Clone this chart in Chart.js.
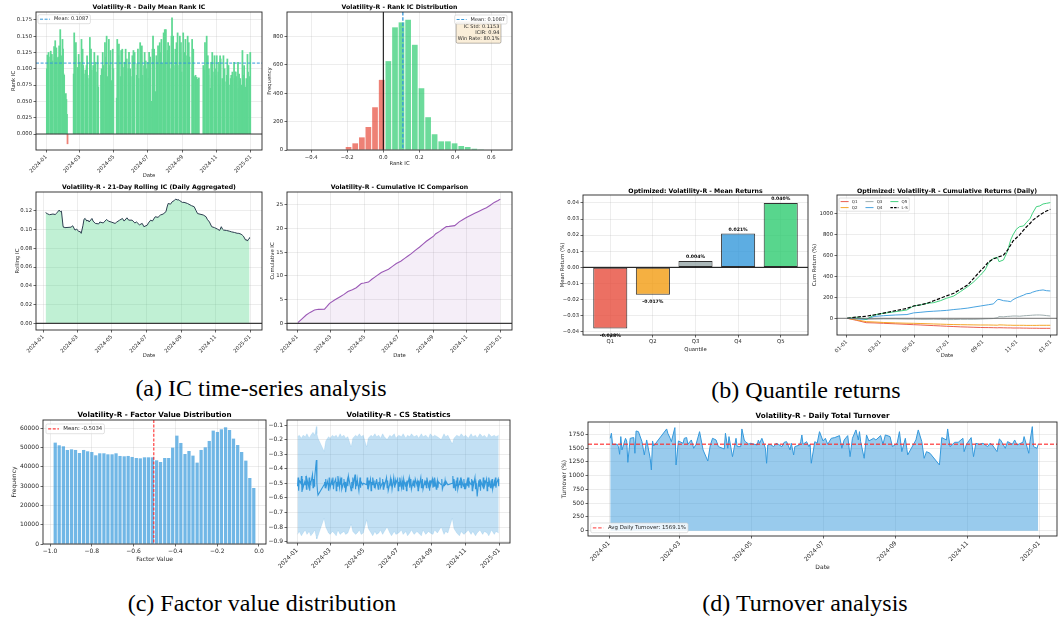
<!DOCTYPE html>
<html lang="en">
<head>
<meta charset="UTF-8">
<title>Volatility-R factor report</title>
<script src="https://cdn.jsdelivr.net/npm/chart.js@4.4.1/dist/chart.umd.min.js"></script>
<style>
  body { margin: 0; width: 1058px; height: 617px; background: #fff; position: relative; overflow: hidden; }
  canvas { position: absolute; }
  .cap { position: absolute; width: 400px; text-align: center; white-space: nowrap; color: #000;
         font-family: "Liberation Serif", serif; font-size: 24px; line-height: 24px; }
</style>
</head>
<body>
<div class="cap" style="left:61px;top:376px">(a) IC time-series analysis</div>
<div class="cap" style="left:606px;top:378px">(b) Quantile returns</div>
<div class="cap" style="left:62px;top:591px">(c) Factor value distribution</div>
<div class="cap" style="left:605px;top:591px">(d) Turnover analysis</div>
<script>
// ---- data ----
const monthTicks = [0, 60, 121, 182, 244, 305, 366];
const dateLabels = ['2024-01', '2024-03', '2024-05', '2024-07', '2024-09', '2024-11', '2025-01'];
const mdLabels = ['01-01', '03-01', '05-01', '07-01', '09-01', '11-01', '01-01'];

// trading days (also used for the cross-sectional mean)
const icDates = [
  '01-02','01-03','01-04','01-05','01-08','01-09','01-10','01-11','01-12','01-15','01-16','01-17','01-18','01-19','01-22','01-23','01-24','01-25','01-26','01-29','01-30','01-31',
  '02-01','02-02','02-05','02-06','02-07','02-08','02-19','02-20','02-21','02-22','02-23','02-26','02-27','02-28','02-29',
  '03-01','03-04','03-05','03-06','03-07','03-08','03-11','03-12','03-13','03-14','03-15','03-18','03-19','03-20','03-21','03-22','03-25','03-26','03-27','03-28','03-29',
  '04-01','04-02','04-03','04-08','04-09','04-10','04-11','04-12','04-15','04-16','04-17','04-18','04-19','04-22','04-23','04-24','04-25','04-26','04-29','04-30',
  '05-06','05-07','05-08','05-09','05-10','05-13','05-14','05-15','05-16','05-17','05-20','05-21','05-22','05-23','05-24','05-27','05-28','05-29','05-30','05-31',
  '06-03','06-04','06-05','06-06','06-07','06-11','06-12','06-13','06-14','06-17','06-18','06-19','06-20','06-21','06-24','06-25','06-26','06-27','06-28',
  '07-01','07-02','07-03','07-04','07-05','07-08','07-09','07-10','07-11','07-12','07-15','07-16','07-17','07-18','07-19','07-22','07-23','07-24','07-25','07-26','07-29','07-30','07-31',
  '08-01','08-02','08-05','08-06','08-07','08-08','08-09','08-12','08-13','08-14','08-15','08-16','08-19','08-20','08-21','08-22','08-23','08-26','08-27','08-28','08-29','08-30',
  '09-02','09-03','09-04','09-05','09-06','09-09','09-10','09-11','09-12','09-13','09-18','09-19','09-20','09-23','09-24','09-25','09-26','09-27','09-30',
  '10-08','10-09','10-10','10-11','10-14','10-15','10-16','10-17','10-18','10-21','10-22','10-23','10-24','10-25','10-28','10-29','10-30','10-31',
  '11-01','11-04','11-05','11-06','11-07','11-08','11-11','11-12','11-13','11-14','11-15','11-18','11-19','11-20','11-21','11-22','11-25','11-26','11-27','11-28','11-29',
  '12-02','12-03','12-04','12-05','12-06','12-09','12-10','12-11','12-12','12-13','12-16','12-17','12-18','12-19','12-20','12-23','12-24','12-25','12-26','12-27','12-30','12-31'
];
const icValues = [
  .100,.121,.108,.125,.118,.127,.103,.122,.112,.134,.118,.143,.126,.132,.117,.118,.135,.098,.160,.120,.145,.130,
  .092,.090,.062,.053,.030,-.015,.092,.155,.100,.118,.140,.102,.035,.122,.098,
  .110,.145,.088,.130,.105,.092,.098,.065,.105,.120,.090,.085,.148,.110,.130,.098,.105,.088,.125,.100,.110,
  .095,.120,.072,.090,.100,.082,.125,.105,.140,.095,.118,.150,.088,.145,.105,.100,.128,.082,.130,.100,
  .055,.145,.095,.120,.138,.088,.128,.070,.130,.102,.110,.080,.130,.095,.115,.100,.125,.078,.100,.088,
  .120,.075,.128,.095,.125,.090,.108,.130,.085,.140,.098,.120,.135,.090,.105,.125,.072,.112,.100,
  .110,.085,.125,.095,.118,.050,.130,.150,.105,.130,.065,.120,.050,.110,.135,.140,.095,.125,.145,.108,.155,.120,.160,
  .098,.160,.128,.140,.110,.135,.100,.150,.178,.120,.150,.105,.130,.090,.140,.118,.155,.105,.150,.125,.140,.095,
  .155,.115,.125,.100,.145,.120,.150,.098,.140,.118,.145,.105,.130,.088,.090,.085,.087,.084,.086,
  .105,.080,.098,.140,.150,.100,.120,.090,.100,.070,.110,.085,.125,.095,.120,.100,.088,.090,
  .120,.095,.110,.075,.120,.115,.085,.070,.120,.095,.100,.080,.090,.115,.085,.105,.075,.085,.090,.080,.095,
  .110,.085,.095,.095,.088,.110,.070,.092,.080,.085,.075,.128,.082,.090,.105,.072,.085,.080,.122,.095,.088,.125
];
const icMean = 0.1087;

const icBinCenters = [-0.193,-0.156,-0.119,-0.083,-0.046,-0.009,0.028,0.065,0.101,0.138,0.175,0.212,0.249,0.285,0.322,0.359,0.396,0.433,0.469,0.506,0.543];
const icBinCounts = [21,47,89,162,301,494,626,864,899,918,741,435,231,111,61,61,47,28,21,9,4];
const icStatsLines = ['IC Std: 0.1153', 'ICIR: 0.94', 'Win Rate: 80.1%'];

const rollDates = [
  '01-05','01-09','01-12','01-18','01-22','01-24','01-26','01-29','01-31','02-02',
  '02-05','02-06','02-08','02-19','02-22','02-26','02-29','03-04','03-06','03-08',
  '03-11','03-13','03-15','03-18','03-20','03-22','03-27','03-29','04-02','04-08',
  '04-10','04-16','04-22','04-25','04-30','05-07','05-10','05-15','05-20','05-23',
  '05-28','05-31','06-06','06-11','06-14','06-19','06-24','06-27','07-03','07-05',
  '07-09','07-12','07-17','07-22','07-26','07-31','08-05','08-07','08-09','08-13',
  '08-16','08-20','08-22','08-26','08-28','08-30','09-03','09-06','09-12','09-19',
  '09-24','09-27','09-30','10-10','10-15','10-17','10-21','10-25','10-30','11-04',
  '11-08','11-11','11-13','11-15','11-20','11-25','11-29','12-04','12-09','12-12',
  '12-16','12-18','12-20','12-24','12-26','12-27','12-30','12-31'
];
const rollValues = [
  .118,.1165,.1158,.1165,.116,.117,.1185,.1207,.119,.1196,
  .103,.1025,.102,.1025,.104,.0994,.1005,.0976,.098,.0959,
  .104,.111,.1118,.109,.110,.108,.1118,.109,.1065,.106,
  .108,.107,.1108,.109,.108,.1065,.108,.110,.1118,.109,
  .1125,.110,.110,.107,.108,.105,.1065,.103,.1047,.107,
  .110,.109,.1136,.113,.1154,.1165,.119,.124,.1278,.127,
  .1296,.131,.1324,.1315,.1317,.1305,.1289,.129,.1278,.1255,
  .1243,.1205,.117,.1155,.1136,.111,.108,.103,.102,.1005,
  .099,.103,.1005,.0994,.099,.0983,.0975,.0969,.096,.0959,
  .095,.0941,.093,.0888,.089,.0877,.0905,.0916
];

const cumDates = [
  '01-02','01-09','01-17','01-24','02-01','02-08','02-19','02-23','02-28','03-08',
  '03-18','03-25','04-01','04-09','04-16','04-25','04-30','05-08','05-14','05-20',
  '05-31','06-07','06-13','06-20','06-27','07-05','07-12','07-18','07-24','07-31',
  '08-08','08-14','08-20','08-27','09-02','09-06','09-13','09-20','09-25','09-30',
  '10-10','10-18','10-25','10-31','11-08','11-15','11-22','11-29','12-06','12-13',
  '12-20','12-27','12-31'
];
const cumValues = [
  0.14,0.9,1.76,2.3,2.8,2.95,3.0,3.5,4.2,4.9,
  5.6,6.1,6.7,7.1,7.5,8.4,8.5,8.7,9.3,9.8,
  10.7,11.1,11.4,12.0,12.6,13.1,13.7,14.2,14.7,15.4,
  16.1,16.7,17.3,17.9,18.4,18.9,19.4,20.0,20.4,20.45,
  20.6,21.4,21.9,22.3,22.8,23.2,23.6,24.0,24.4,24.9,
  25.5,25.9,26.2
];

const quantiles = ['Q1', 'Q2', 'Q3', 'Q4', 'Q5'];
const meanReturns = [-0.038, -0.017, 0.004, 0.021, 0.040];

const qrDates = [
  '01-02','01-19','02-05','02-19','03-07','03-29','04-18','04-30','05-13','05-24',
  '06-05','06-17','06-28','07-11','07-23','08-05','08-16','08-28','09-05','09-11',
  '09-20','09-27','09-30','10-08','10-15','10-21','10-25','10-31','11-06','11-13',
  '11-18','11-25','11-29','12-06','12-12','12-18','12-24','12-31'
];
const q1Cum = [0,-20,-42,-44,-48,-53,-58,-61,-64,-67,-70,-73,-76,-79,-82,-84,-86,-88,-89,-89,-90,-91,-90,-91,-92,-92,-93,-93,-93,-94,-94,-95,-95,-95,-96,-96,-96,-96];
const q2Cum = [0,-15,-32,-35,-40,-44,-47,-48,-50,-52,-54,-56,-58,-60,-61,-62,-63,-64,-64,-64,-65,-66,-63,-64,-66,-66,-67,-67,-67,-67,-68,-68,-68,-68,-67,-67,-67,-67];
const q3Cum = [0,-4,-10,-8,-6,-6,-8,-8,-10,-10,-9,-10,-12,-12,-10,-10,-10,-8,-5,-4,-2,5,16,14,18,20,22,22,20,24,26,28,30,32,32,30,26,22];
const q4Cum = [0,-5,-10,18,25,32,36,52,58,64,68,72,76,84,90,98,108,118,125,130,138,178,182,169,165,160,178,195,208,222,235,240,250,262,268,272,265,262];
const q5Cum = [0,10,-10,32,48,64,80,118,128,144,150,169,192,214,256,304,351,415,463,527,575,585,543,559,639,751,799,853,879,885,917,958,1006,1070,1077,1096,1102,1109];
const lsCum = [0,12,20,32,50,74,95,118,130,144,168,192,215,240,278,320,385,457,500,540,570,582,590,605,650,703,740,770,799,845,875,911,938,965,990,1010,1028,1045];

const fvBinCenters = [
  -0.975,-0.956,-0.936,-0.917,-0.897,-0.878,-0.859,-0.839,-0.820,-0.800,
  -0.781,-0.762,-0.742,-0.723,-0.703,-0.684,-0.665,-0.645,-0.626,-0.607,
  -0.587,-0.568,-0.548,-0.529,-0.510,-0.490,-0.471,-0.451,-0.432,-0.413,
  -0.393,-0.374,-0.354,-0.335,-0.316,-0.296,-0.277,-0.257,-0.238,-0.219,
  -0.199,-0.180,-0.160,-0.141,-0.122,-0.102,-0.083,-0.063,-0.044,-0.025
];
const fvBinCounts = [
  52560,51180,50660,48760,49100,48760,47200,48760,48070,47720,
  45990,47030,47030,46510,46510,47030,45650,45470,45650,45130,
  44610,44430,44950,44950,44950,43400,42530,44610,44610,49970,
  56190,52390,46680,48240,45820,42190,48760,50140,53430,58790,
  58100,59480,60520,59130,54640,51350,47720,43230,34230,29050
];
const fvMean = -0.5034;

// cross-sectional mean per trading day (dates = icDates)
const csMean = [
  -0.52,-0.46,-0.55,-0.48,-0.50,-0.45,-0.56,-0.47,-0.53,-0.49,-0.51,-0.45,-0.54,-0.47,-0.52,-0.46,-0.55,-0.49,-0.50,-0.44,-0.53,-0.47,
  -0.52,-0.46,-0.34,-0.50,-0.55,-0.58,-0.51,-0.49,-0.53,-0.47,-0.52,-0.48,-0.55,-0.50,-0.46,
  -0.53,-0.48,-0.51,-0.46,-0.54,-0.50,-0.47,-0.55,-0.49,-0.52,-0.45,-0.53,-0.48,-0.51,-0.46,-0.54,-0.50,-0.47,-0.53,-0.49,-0.56,
  -0.48,-0.52,-0.45,-0.55,-0.49,-0.53,-0.46,-0.51,-0.44,-0.54,-0.48,-0.52,-0.47,-0.55,-0.50,-0.46,-0.53,-0.49,-0.51,-0.50,
  -0.51,-0.46,-0.54,-0.48,-0.52,-0.47,-0.55,-0.49,-0.51,-0.46,-0.53,-0.48,-0.52,-0.50,-0.47,-0.54,-0.49,-0.51,-0.46,-0.53,
  -0.50,-0.47,-0.54,-0.49,-0.52,-0.46,-0.53,-0.48,-0.55,-0.50,-0.47,-0.52,-0.49,-0.54,-0.46,-0.51,-0.53,-0.48,-0.50,
  -0.47,-0.55,-0.49,-0.52,-0.46,-0.53,-0.48,-0.51,-0.54,-0.47,-0.52,-0.49,-0.55,-0.48,-0.51,-0.46,-0.53,-0.50,-0.47,-0.54,-0.49,-0.52,-0.48,
  -0.53,-0.47,-0.51,-0.49,-0.55,-0.48,-0.52,-0.46,-0.53,-0.50,-0.47,-0.54,-0.49,-0.51,-0.48,-0.53,-0.46,-0.52,-0.50,-0.55,-0.48,-0.51,
  -0.47,-0.53,-0.49,-0.52,-0.46,-0.54,-0.50,-0.48,-0.53,-0.49,-0.51,-0.47,-0.54,-0.50,-0.52,-0.48,-0.51,-0.49,-0.51,
  -0.50,-0.45,-0.53,-0.47,-0.55,-0.48,-0.52,-0.46,-0.54,-0.49,-0.51,-0.46,-0.53,-0.48,-0.52,-0.47,-0.54,-0.50,
  -0.54,-0.48,-0.52,-0.46,-0.53,-0.49,-0.51,-0.47,-0.55,-0.48,-0.52,-0.46,-0.54,-0.50,-0.53,-0.59,-0.48,-0.52,-0.47,-0.55,-0.49,
  -0.52,-0.46,-0.54,-0.48,-0.51,-0.47,-0.55,-0.49,-0.52,-0.46,-0.53,-0.48,-0.51,-0.47,-0.54,-0.49,-0.52,-0.46,-0.53,-0.50,-0.47,-0.52
];

const csDates = [
  '01-02','01-05','01-09','01-12','01-16','01-19','01-23','01-26','01-30','02-02',
  '02-05','02-06','02-08','02-19','02-22','02-27','03-01','03-05','03-08','03-12',
  '03-15','03-19','03-22','03-26','03-29','04-02','04-08','04-11','04-16','04-19',
  '04-23','04-26','04-30','05-06','05-09','05-14','05-17','05-21','05-24','05-28',
  '05-31','06-04','06-07','06-12','06-17','06-20','06-25','06-28','07-03','07-08',
  '07-11','07-16','07-19','07-23','07-26','07-31','08-05','08-08','08-13','08-16',
  '08-21','08-26','08-29','09-03','09-06','09-11','09-18','09-23','09-26','09-30',
  '10-08','10-11','10-16','10-21','10-24','10-29','11-01','11-06','11-11','11-14',
  '11-19','11-22','11-27','12-02','12-05','12-10','12-13','12-18','12-23','12-26',
  '12-31'
];
const csUpper = [
  -0.18,-0.17,-0.19,-0.17,-0.18,-0.16,-0.19,-0.17,-0.15,-0.17,
  -0.11,-0.16,-0.19,-0.28,-0.21,-0.18,-0.19,-0.17,-0.18,-0.17,
  -0.19,-0.16,-0.18,-0.17,-0.19,-0.18,-0.25,-0.19,-0.17,-0.18,
  -0.16,-0.18,-0.17,-0.25,-0.19,-0.17,-0.18,-0.16,-0.18,-0.17,
  -0.19,-0.16,-0.18,-0.20,-0.17,-0.18,-0.16,-0.19,-0.17,-0.18,
  -0.16,-0.19,-0.17,-0.18,-0.16,-0.18,-0.17,-0.19,-0.16,-0.18,
  -0.17,-0.19,-0.16,-0.18,-0.17,-0.18,-0.20,-0.16,-0.18,-0.17,
  -0.23,-0.19,-0.17,-0.18,-0.16,-0.18,-0.17,-0.19,-0.16,-0.18,
  -0.17,-0.19,-0.16,-0.18,-0.17,-0.19,-0.16,-0.18,-0.17,-0.18,
  -0.17
];
const csLower = [
  -0.85,-0.83,-0.86,-0.84,-0.82,-0.85,-0.83,-0.86,-0.84,-0.82,
  -0.87,-0.88,-0.86,-0.74,-0.80,-0.84,-0.85,-0.83,-0.84,-0.86,
  -0.82,-0.85,-0.84,-0.83,-0.85,-0.84,-0.78,-0.83,-0.85,-0.84,
  -0.82,-0.85,-0.84,-0.75,-0.81,-0.84,-0.86,-0.83,-0.85,-0.84,
  -0.82,-0.85,-0.83,-0.80,-0.84,-0.86,-0.83,-0.85,-0.84,-0.82,
  -0.85,-0.83,-0.86,-0.84,-0.82,-0.85,-0.83,-0.84,-0.86,-0.82,
  -0.85,-0.83,-0.84,-0.85,-0.82,-0.84,-0.80,-0.85,-0.83,-0.84,
  -0.74,-0.81,-0.84,-0.86,-0.83,-0.85,-0.84,-0.82,-0.85,-0.83,
  -0.86,-0.84,-0.82,-0.85,-0.83,-0.84,-0.86,-0.82,-0.85,-0.83,
  -0.84
];

const toDates = [
  '01-02','01-03','01-04','01-08','01-09','01-10','01-11','01-12','01-15','01-16','01-17','01-19','01-22','01-23','01-24','01-26','01-29','01-31',
  '02-02','02-05','02-06','02-07','02-08','02-19','02-20','02-22','02-23','02-26','02-27','02-29',
  '03-04','03-05','03-07','03-08','03-11','03-13','03-15','03-18','03-21','03-25','03-27','03-29',
  '04-01','04-03','04-08','04-09','04-11','04-12','04-15','04-18','04-19','04-22','04-23','04-25','04-26','04-29','04-30',
  '05-06','05-07','05-08','05-10','05-13','05-14','05-15','05-17','05-20','05-22','05-24','05-27','05-29','05-31',
  '06-03','06-04','06-06','06-07','06-11','06-12','06-13','06-14','06-17','06-19','06-20','06-21','06-24','06-26','06-28',
  '07-01','07-03','07-05','07-08','07-11','07-15','07-17','07-19','07-22','07-24','07-26','07-29','07-31',
  '08-01','08-02','08-05','08-07','08-09','08-13','08-15','08-19','08-21','08-23','08-27','08-29',
  '09-02','09-04','09-06','09-09','09-11','09-18','09-20','09-23','09-25','09-27','09-30',
  '10-08','10-10','10-14','10-15','10-17','10-21','10-24','10-28','10-29','10-31',
  '11-04','11-06','11-08','11-11','11-14','11-18','11-20','11-22','11-26','11-28','11-29',
  '12-03','12-05','12-09','12-11','12-13','12-18','12-19','12-23','12-24','12-26','12-27','12-30','12-31'
];
const toValues = [
  1677,1768,1568,1568,1526,1387,1708,1465,1677,1629,1241,1677,1690,1405,1810,1798,1617,1375,
  1647,1314,1102,1629,1538,1847,1768,1677,1617,1871,1193,1629,
  1586,1677,1690,1568,1647,1496,1568,1798,1465,1265,1538,1677,
  1647,1526,1483,1768,1496,1708,1344,1677,1526,1526,1847,1646,1616,1568,1587,
  1556,1646,1587,1677,1496,1224,1556,1568,1525,1587,1568,1525,1605,1616,
  1465,1587,1374,1525,1556,1616,1737,1568,1616,1525,1568,1224,1616,1587,1798,
  1629,1677,1568,1677,1690,1726,1496,1647,1726,1344,1677,1829,1647,
  1798,1617,1314,1738,1629,1677,1647,1726,1568,1738,1708,1526,
  1586,1798,1435,1677,1375,1647,1829,1617,1314,1435,1405,
  1193,1690,1647,1847,1526,1605,1605,1677,1435,1568,
  1690,1344,1586,1568,1586,1526,1586,1556,1435,1665,1647,
  1496,1617,1568,1647,1556,1605,1708,1405,1617,1889,1526,1496,1568
];
const avgTurnover = 1569.1;

// ---- helpers ----
const INK = '#262626';
const GRID = 'rgba(176,176,176,0.38)';
Chart.defaults.font.family = '"DejaVu Sans", sans-serif';
Chart.defaults.color = INK;

const day = s => (Date.UTC(2024, +s.slice(0, 2) - 1, +s.slice(3, 5)) - Date.UTC(2024, 0, 1)) / 864e5;
const pts = (dates, vals) => dates.map((d, i) => ({ x: day(d), y: vals[i] }));
const xy = (xs, ys) => xs.map((x, i) => ({ x: x, y: ys[i] }));
const minus = s => s.replace('-', '\u2212');
const fixed = n => v => minus(v.toFixed(n));

function axis(o) {
  return {
    type: 'linear', min: o.min, max: o.max, offset: false,
    afterBuildTicks: s => { s.ticks = o.ticks.map(v => ({ value: v })); },
    ticks: {
      autoSkip: false, minRotation: o.rot || 0, maxRotation: o.rot || 0,
      padding: o.tpad != null ? o.tpad : 1.5, color: INK, font: { size: o.size },
      callback: (v, i) => o.labels ? o.labels[i] : o.fmt(v)
    },
    grid: { color: GRID, lineWidth: 0.6, offset: false, tickColor: INK, tickLength: 2.5, tickWidth: 0.7 },
    border: { display: false },
    title: { display: !!o.title, text: o.title || '', color: INK, font: { size: o.size, lineHeight: 1 }, padding: 0 }
  };
}

function strokeLine(ctx, x1, y1, x2, y2, s) {
  ctx.beginPath();
  ctx.strokeStyle = s.color; ctx.lineWidth = s.width || 1; ctx.setLineDash(s.dash || []);
  ctx.moveTo(x1, y1); ctx.lineTo(x2, y2); ctx.stroke();
  ctx.setLineDash([]);
}

function drawLegend(ctx, a, L) {
  const fs = L.size, rows = L.rows || L.items.length, cols = Math.ceil(L.items.length / rows);
  const pad = 0.4 * fs, hl = 2 * fs, hg = 0.8 * fs, cs = 2 * fs, ls = 0.5 * fs;
  ctx.save();
  ctx.font = fs + 'px "DejaVu Sans"';
  const colW = [];
  for (let c = 0; c < cols; c++) {
    let w = 0;
    for (let r = 0; r < rows; r++) {
      const it = L.items[c * rows + r];
      if (it) w = Math.max(w, ctx.measureText(it.label).width);
    }
    colW.push(hl + hg + w);
  }
  const W = 2 * pad + colW.reduce((s, v) => s + v, 0) + cs * (cols - 1);
  const H = 2 * pad + rows * fs + (rows - 1) * ls;
  const x0 = L.right != null ? a.right - L.right - W : a.left + L.left;
  const y0 = L.bottom != null ? a.bottom - L.bottom - H : a.top + L.top;
  ctx.beginPath(); ctx.roundRect(x0, y0, W, H, fs * 0.3);
  ctx.fillStyle = 'rgba(255,255,255,0.8)'; ctx.fill();
  ctx.strokeStyle = '#cccccc'; ctx.lineWidth = 0.6; ctx.stroke();
  let cx = x0 + pad;
  for (let c = 0; c < cols; c++) {
    for (let r = 0; r < rows; r++) {
      const it = L.items[c * rows + r];
      if (!it) continue;
      const cy = y0 + pad + r * (fs + ls) + fs / 2;
      strokeLine(ctx, cx, cy, cx + hl, cy, it);
      ctx.fillStyle = INK; ctx.textAlign = 'left'; ctx.textBaseline = 'middle';
      ctx.fillText(it.label, cx + hl + hg, cy);
    }
    cx += colW[c] + cs;
  }
  ctx.restore();
}

function drawTextBox(ctx, a, B) {
  ctx.save();
  ctx.font = B.size + 'px "DejaVu Sans"';
  const w = Math.max(...B.lines.map(s => ctx.measureText(s).width)) + 2 * B.pad;
  const h = B.lines.length * B.lineH + 2 * B.pad;
  const x1 = a.right - B.right, y0 = a.top + B.top;
  ctx.beginPath(); ctx.roundRect(x1 - w, y0, w, h, 1.5);
  ctx.fillStyle = 'rgba(245,222,179,0.5)'; ctx.fill();
  ctx.strokeStyle = 'rgba(0,0,0,0.45)'; ctx.lineWidth = 0.6; ctx.stroke();
  ctx.fillStyle = INK; ctx.textAlign = 'right'; ctx.textBaseline = 'middle';
  B.lines.forEach((s, i) => ctx.fillText(s, x1 - B.pad, y0 + B.pad + (i + 0.5) * B.lineH));
  ctx.restore();
}

function decoPlugin(d) {
  return {
    id: 'deco',
    afterDatasetsDraw(chart) {
      const { ctx, chartArea: a, scales: { x, y } } = chart;
      ctx.save();
      ctx.beginPath(); ctx.rect(a.left, a.top, a.right - a.left, a.bottom - a.top); ctx.clip();
      (d.hlines || []).forEach(h => { const py = y.getPixelForValue(h.v); strokeLine(ctx, a.left, py, a.right, py, h); });
      (d.vlines || []).forEach(h => { const px = x.getPixelForValue(h.v); strokeLine(ctx, px, a.top, px, a.bottom, h); });
      ctx.restore();
      ctx.save();
      ctx.strokeStyle = INK; ctx.lineWidth = 0.9;
      ctx.strokeRect(a.left, a.top, a.right - a.left, a.bottom - a.top);
      ctx.restore();
      if (d.barLabels) {
        const meta = chart.getDatasetMeta(0);
        ctx.save();
        ctx.font = 'bold ' + d.barLabels.size + 'px "DejaVu Sans"';
        ctx.fillStyle = '#000'; ctx.textAlign = 'center'; ctx.textBaseline = 'middle';
        meta.data.forEach((el, i) => {
          const v = d.barLabels.values[i];
          ctx.fillText(v.toFixed(3) + '%', el.x, v >= 0 ? el.y - 4.2 : el.y + 7);
        });
        ctx.restore();
      }
      if (d.box) drawTextBox(ctx, a, d.box);
      if (d.legend) drawLegend(ctx, a, d.legend);
      ctx.save();
      ctx.fillStyle = '#000'; ctx.font = 'bold ' + d.titleSize + 'px "DejaVu Sans"';
      ctx.textAlign = 'center'; ctx.textBaseline = 'middle';
      ctx.fillText(d.title, (a.left + a.right) / 2, a.top - d.titleGap);
      ctx.restore();
    }
  };
}

// box = plot area [l, t, r, b] on the page, pad = room [left, top, right, bottom] around it
function makeChart(box, pad, config, deco) {
  const [l, t, r, b] = box;
  const left = Math.round(l - pad[0]), top = Math.round(t - pad[1]);
  const W = Math.round(r + pad[2]) - left, H = Math.round(b + pad[3]) - top;
  const cv = document.createElement('canvas');
  cv.width = W; cv.height = H;
  cv.style.left = left + 'px'; cv.style.top = top + 'px';
  cv.style.width = W + 'px'; cv.style.height = H + 'px';
  document.body.appendChild(cv);
  const o = config.options;
  o.responsive = false; o.animation = false; o.devicePixelRatio = 1;
  o.layout = { padding: { left: 0, top: t - top, right: left + W - r, bottom: 0 } };
  o.scales.x.afterFit = s => { s.height = top + H - b; };
  o.scales.y.afterFit = s => { s.width = l - left; };
  o.plugins = { legend: { display: false }, tooltip: { enabled: false } };
  o.elements = { point: { radius: 0 }, line: { tension: 0 } };
  config.plugins = [decoPlugin(deco)];
  return new Chart(cv, config);
}

const FA = 5.3, FC = 6.0, TA = 6.2, TC = 7.2;
const GREEN = '#5fd893', RED = '#ee8277', BLUE = '#3498db';

// (a) daily mean rank IC
makeChart([36, 12, 262, 150], [24.65, 12, 6, 28.35], {
  type: 'bar',
  data: { datasets: [{
    data: pts(icDates, icValues),
    backgroundColor: icValues.map(v => v >= 0 ? GREEN : RED),
    barThickness: 1.1, borderWidth: 0
  }] },
  options: { scales: {
    x: axis({ min: -18.4, max: 386, ticks: monthTicks, labels: dateLabels, size: FA, rot: 45, title: 'Date' }),
    y: axis({ min: -0.0245, max: 0.187, ticks: [0, 0.025, 0.05, 0.075, 0.1, 0.125, 0.15, 0.175], fmt: fixed(3), size: FA, title: 'Rank IC' })
  } }
}, {
  title: 'Volatility-R - Daily Mean Rank IC', titleSize: TA, titleGap: 4.7,
  hlines: [{ v: 0, color: '#3a3a3a', width: 1.2 }, { v: icMean, color: BLUE, width: 1, dash: [3, 1.6] }],
  legend: { size: 5, left: 2, top: 2.7, items: [{ label: 'Mean: ' + icMean.toFixed(4), color: BLUE, width: 1, dash: [3, 1.6] }] }
});

// (a) rank IC distribution
makeChart([287, 12, 512, 150], [20.35, 12, 6, 15.65], {
  type: 'bar',
  data: { datasets: [{
    data: xy(icBinCenters, icBinCounts),
    backgroundColor: icBinCenters.map(c => c < 0 ? 'rgba(231,76,60,0.7)' : 'rgba(46,204,113,0.7)'),
    categoryPercentage: 1, barPercentage: 0.88, borderWidth: 0
  }] },
  options: { scales: {
    x: axis({ min: -0.535, max: 0.715, ticks: [-0.4, -0.2, 0, 0.2, 0.4, 0.6], fmt: fixed(1), size: FA, title: 'Rank IC' }),
    y: axis({ min: 0, max: 972, ticks: [0, 200, 400, 600, 800], fmt: v => String(v), size: FA, title: 'Frequency' })
  } }
}, {
  title: 'Volatility-R - Rank IC Distribution', titleSize: TA, titleGap: 4.7,
  vlines: [{ v: 0, color: '#000', width: 1 }, { v: icMean, color: BLUE, width: 1.3, dash: [3.5, 1.8] }],
  box: { size: 5, right: 11, top: 10, pad: 1.6, lineH: 6, lines: icStatsLines },
  legend: { size: 5, right: 5, top: 3, items: [{ label: 'Mean: ' + icMean.toFixed(4), color: BLUE, width: 1.2, dash: [3, 1.6] }] }
});

// (a) 21-day rolling IC
makeChart([36, 192, 262, 330], [21.35, 9, 6, 28.35], {
  type: 'line',
  data: { datasets: [{
    data: pts(rollDates, rollValues),
    borderColor: '#2c3e50', borderWidth: 1, fill: 'origin', backgroundColor: 'rgba(46,204,113,0.3)'
  }] },
  options: { scales: {
    x: axis({ min: -13, max: 387, ticks: monthTicks, labels: dateLabels, size: FA, rot: 45, title: 'Date' }),
    y: axis({ min: -0.0071, max: 0.14, ticks: [0, 0.02, 0.04, 0.06, 0.08, 0.1, 0.12], fmt: fixed(2), size: FA, title: 'Rolling IC' })
  } }
}, {
  title: 'Volatility-R - 21-Day Rolling IC (Daily Aggregated)', titleSize: TA, titleGap: 4.3,
  hlines: [{ v: 0, color: '#3a3a3a', width: 1.2 }]
});

// (a) cumulative IC
makeChart([287, 192, 512, 330], [16.95, 9, 6, 28.35], {
  type: 'line',
  data: { datasets: [{
    data: pts(cumDates, cumValues),
    borderColor: '#9b59b6', borderWidth: 1.1, fill: 'origin', backgroundColor: 'rgba(155,89,182,0.1)'
  }] },
  options: { scales: {
    x: axis({ min: -18.5, max: 386, ticks: monthTicks, labels: dateLabels, size: FA, rot: 45, title: 'Date' }),
    y: axis({ min: -1.41, max: 27.7, ticks: [0, 5, 10, 15, 20, 25], fmt: v => String(v), size: FA, title: 'Cumulative IC' })
  } }
}, {
  title: 'Volatility-R - Cumulative IC Comparison', titleSize: TA, titleGap: 4.3,
  hlines: [{ v: 0, color: '#3a3a3a', width: 1.2 }]
});

// (b) mean returns per quantile
makeChart([583, 195, 808, 335], [22.95, 9, 6, 16.65], {
  type: 'bar',
  data: { datasets: [{
    data: xy([0, 1, 2, 3, 4], meanReturns),
    backgroundColor: ['rgba(231,76,60,0.8)', 'rgba(243,156,18,0.8)', 'rgba(149,165,166,0.8)', 'rgba(52,152,219,0.8)', 'rgba(46,204,113,0.8)'],
    borderColor: 'rgba(0,0,0,0.8)', borderWidth: 1, borderSkipped: false,
    categoryPercentage: 1, barPercentage: 0.8
  }] },
  options: { scales: {
    x: axis({ min: -0.64, max: 4.64, ticks: [0, 1, 2, 3, 4], labels: quantiles, size: FA, tpad: 0.5, title: 'Quantile' }),
    y: axis({ min: -0.042, max: 0.0449, ticks: [-0.04, -0.03, -0.02, -0.01, 0, 0.01, 0.02, 0.03, 0.04], fmt: fixed(2), size: FA, title: 'Mean Return (%)' })
  } }
}, {
  title: 'Optimized: Volatility-R - Mean Returns', titleSize: TA, titleGap: 4,
  hlines: [{ v: 0, color: '#000', width: 1 }],
  barLabels: { size: 4.6, values: meanReturns }
});

// (b) cumulative returns by quantile
const qColors = ['#e74c3c', '#f39c12', '#95a5a6', '#3498db', '#2ecc71'];
const qSeries = [q1Cum, q2Cum, q3Cum, q4Cum, q5Cum];
makeChart([837, 195, 1057, 335], [24.65, 9, 1, 22.65], {
  type: 'line',
  data: { datasets: [
    { data: pts(qrDates, lsCum), borderColor: '#000', borderWidth: 1.2, borderDash: [3.5, 1.6], fill: false }
  ].concat(qSeries.map((s, i) => ({ data: pts(qrDates, s), borderColor: qColors[i], borderWidth: 0.9, fill: false })).reverse()) },
  options: { scales: {
    x: axis({ min: -17.4, max: 377, ticks: monthTicks, labels: mdLabels, size: FA, rot: 45, title: 'Date' }),
    y: axis({ min: -160, max: 1182, ticks: [0, 200, 400, 600, 800, 1000], fmt: v => String(v), size: FA, title: 'Cum Return (%)' })
  } }
}, {
  title: 'Optimized: Volatility-R - Cumulative Returns (Daily)', titleSize: TA, titleGap: 4,
  hlines: [{ v: 0, color: 'rgba(110,110,110,0.75)', width: 1.3 }],
  legend: { size: 4, left: 2, top: 3, rows: 2, items: quantiles.map((q, i) => ({ label: q, color: qColors[i], width: 0.9 }))
    .concat([{ label: 'L-S', color: '#000', width: 1.1, dash: [2.5, 1.2] }]) }
});

// (c) factor value distribution
makeChart([43, 420, 266, 544], [32, 10, 4, 18], {
  type: 'bar',
  data: { datasets: [{
    data: xy(fvBinCenters, fvBinCounts),
    backgroundColor: 'rgba(52,152,219,0.7)', categoryPercentage: 1, barPercentage: 0.82, borderWidth: 0
  }] },
  options: { scales: {
    x: axis({ min: -1.0335, max: 0.0335, ticks: [-1, -0.8, -0.6, -0.4, -0.2, 0], fmt: fixed(1), size: FC, title: 'Factor Value' }),
    y: axis({ min: 0, max: 64300, ticks: [0, 10000, 20000, 30000, 40000, 50000, 60000], fmt: v => String(v), size: FC, title: 'Frequency' })
  } }
}, {
  title: 'Volatility-R - Factor Value Distribution', titleSize: TC, titleGap: 5,
  vlines: [{ v: fvMean, color: 'rgba(255,30,30,0.85)', width: 1.2, dash: [3, 1.6] }],
  legend: { size: 5.4, left: 3, top: 4, items: [{ label: 'Mean: ' + fvMean.toFixed(4), color: 'rgba(255,30,30,0.85)', width: 1.2, dash: [3, 1.6] }] }
});

// (c) cross-sectional statistics
makeChart([287, 420, 510, 543], [22, 10, 6, 32], {
  type: 'line',
  data: { datasets: [
    { data: pts(icDates, csMean), borderColor: BLUE, borderWidth: 1.1, fill: false },
    { data: pts(csDates, csUpper), borderColor: 'rgba(52,152,219,0.25)', borderWidth: 0.5, fill: '+1', backgroundColor: 'rgba(52,152,219,0.3)' },
    { data: pts(csDates, csLower), borderColor: 'rgba(52,152,219,0.25)', borderWidth: 0.5, fill: false }
  ] },
  options: { scales: {
    x: axis({ min: -18.1, max: 385.4, ticks: monthTicks, labels: dateLabels, size: FC, rot: 45 }),
    y: axis({ min: -0.909, max: -0.0657, ticks: [-0.9, -0.8, -0.7, -0.6, -0.5, -0.4, -0.3, -0.2, -0.1], fmt: fixed(1), size: FC })
  } }
}, {
  title: 'Volatility-R - CS Statistics', titleSize: TC, titleGap: 5
});

// (d) daily total turnover
makeChart([588, 422, 1057, 536], [27, 12, 1, 33.7], {
  type: 'line',
  data: { datasets: [{
    data: pts(toDates, toValues),
    borderColor: BLUE, borderWidth: 1, fill: 'origin', backgroundColor: 'rgba(52,152,219,0.5)'
  }] },
  options: { scales: {
    x: axis({ min: -17.9, max: 381, ticks: monthTicks, labels: dateLabels, size: FC, rot: 45, title: 'Date' }),
    y: axis({ min: -96, max: 1973, ticks: [0, 250, 500, 750, 1000, 1250, 1500, 1750], fmt: v => String(v), size: FC, title: 'Turnover (%)' })
  } }
}, {
  title: 'Volatility-R - Daily Total Turnover', titleSize: TC, titleGap: 6.3,
  hlines: [{ v: avgTurnover, color: 'rgba(255,40,40,0.75)', width: 1.4, dash: [4, 2] }],
  legend: { size: 5.4, left: 2.7, bottom: 3.3, items: [{ label: 'Avg Daily Turnover: ' + avgTurnover.toFixed(1) + '%', color: 'rgba(255,40,40,0.75)', width: 1.3, dash: [3.5, 1.8] }] }
});
</script>
</body>
</html>
